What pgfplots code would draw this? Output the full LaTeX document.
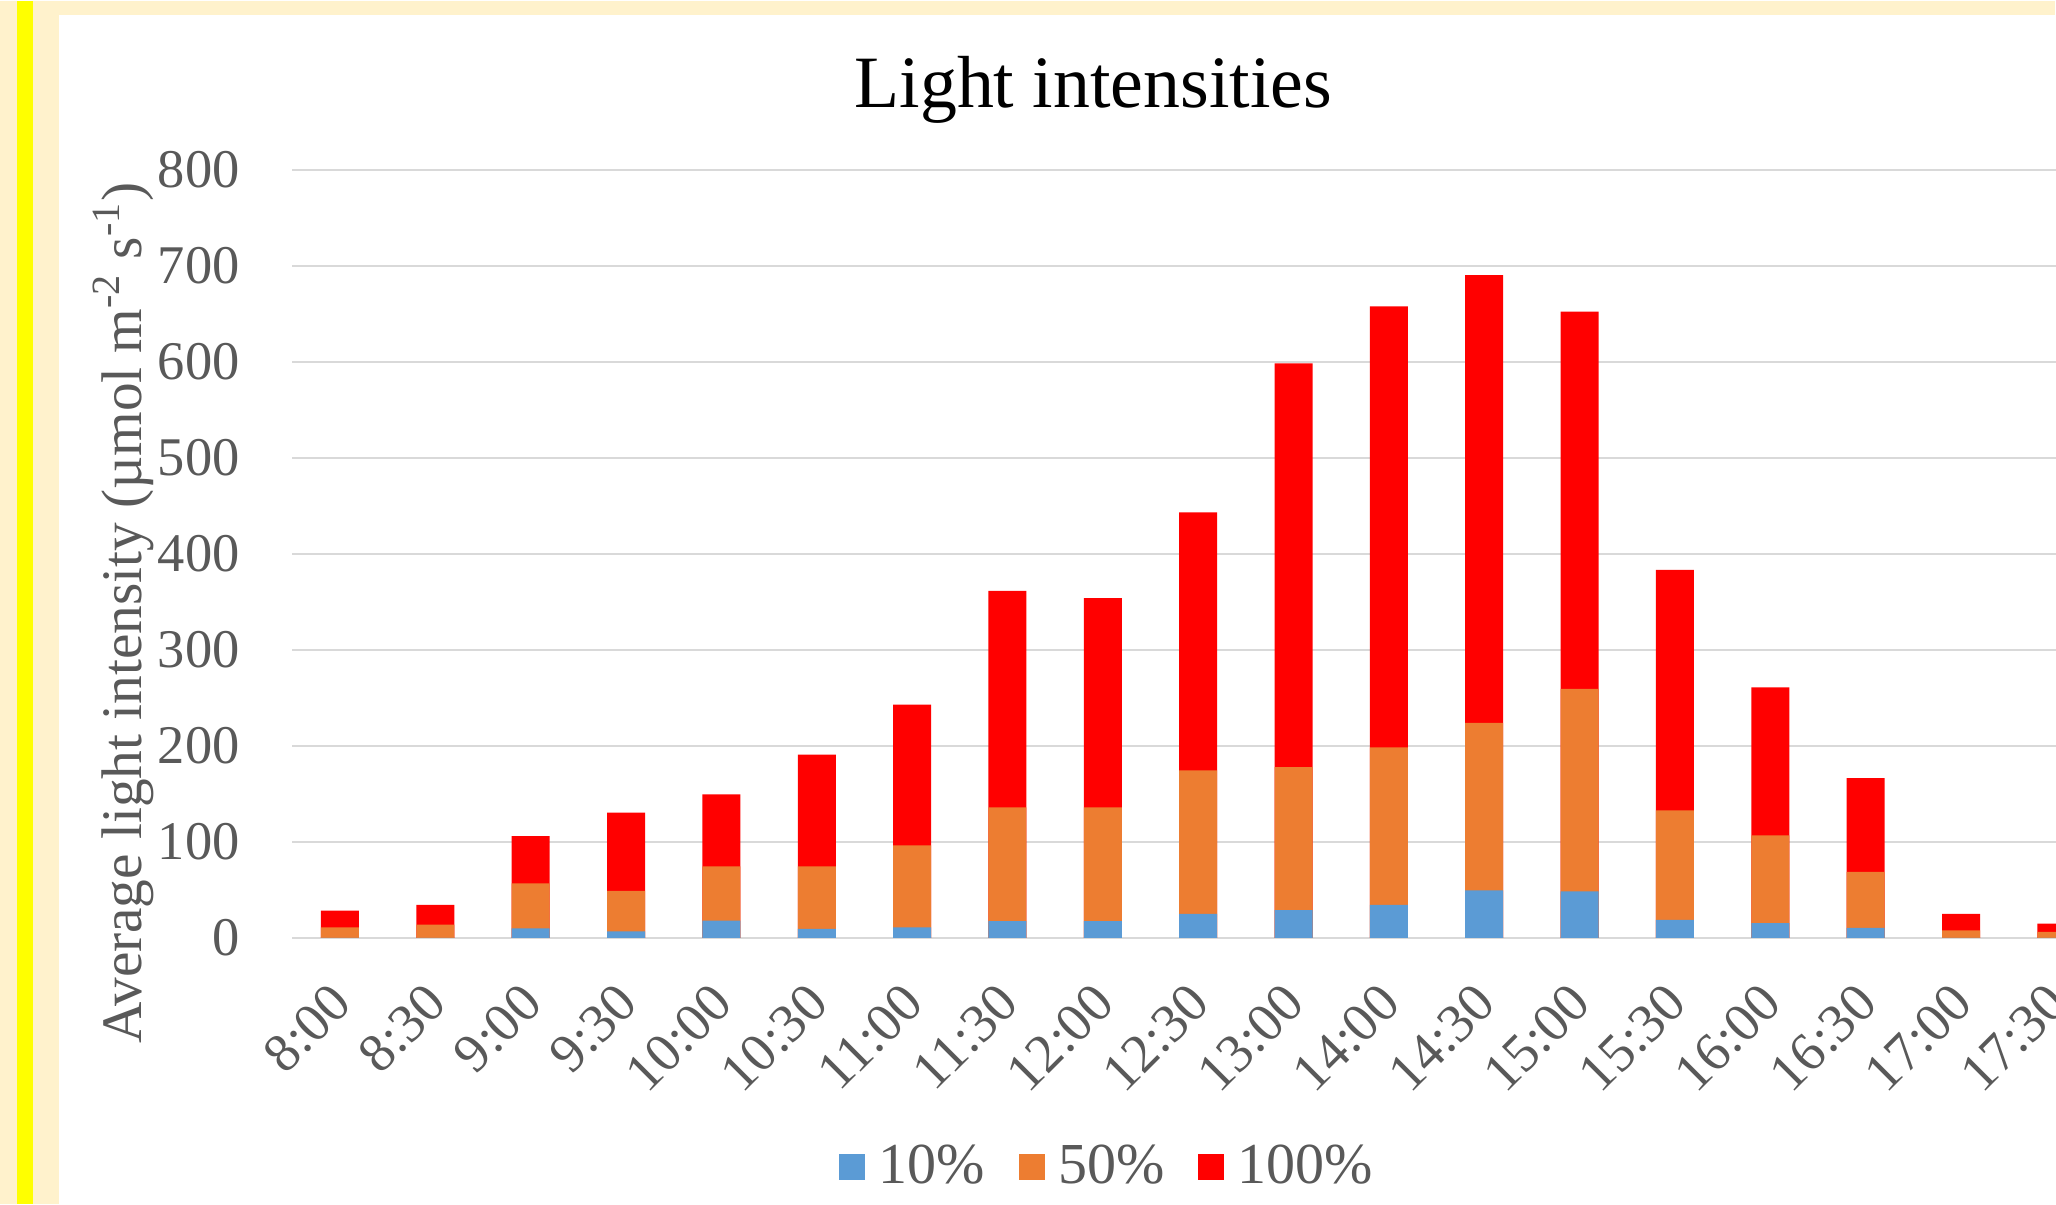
\documentclass[border=0pt]{standalone}
\usepackage{fontspec}
\setmainfont{Liberation Serif}
\usepackage{pgfplots}
\usepackage{pgfplotstable}
\pgfplotsset{compat=1.18}

\definecolor{cream}{HTML}{FFF2CC}
\definecolor{stripe}{HTML}{FFFF00}
\definecolor{txt}{HTML}{595959}
\definecolor{gridc}{HTML}{D9D9D9}
\definecolor{sBlue}{HTML}{5B9BD5}
\definecolor{sOrange}{HTML}{ED7D31}
\definecolor{sRed}{HTML}{FF0000}

% average light intensity under 10 %, 50 % and 100 % light
\pgfplotstableread{
idx p10  p50   p100
0   0    11    28.5
1   0    14    34.5
2   10   57    106
3   7    49    130.5
4   18   74.5  149.5
5   9.5  74.5  191
6   11   96.5  243
7   17.5 136   361.5
8   17.5 136   354
9   25   174.5 443.5
10  29   178   598.5
11  34.5 198.5 658
12  49.5 224   690.5
13  48.5 259.5 652.5
14  19   133   383.5
15  15.5 107   261
16  10.5 69    166.5
17  0    8     25
18  0    6.5   15
}\lightdata

\begin{document}
\begin{tikzpicture}
% page background, side stripe and chart area
\begin{scope}[x=0.01cm,y=0.01cm]
\fill[cream] (0,0) rectangle (2056,1204);
\fill[stripe] (17,0) rectangle (33,1204);
\fill[white] (59,0) rectangle (2200,1190);
\node[anchor=base, font=\fontsize{21}{25}\selectfont, text=black] at (1094,1097) {Light intensities};
\end{scope}

\begin{axis}[
  at={(2.923cm,2.66cm)}, anchor=south west,
  scale only axis, width=18.117cm, height=7.68cm,
  xmin=-0.5, xmax=18.5, ymin=0, ymax=800,
  ybar, bar width=0.38cm,
  axis line style={draw=none},
  major tick length=0pt,
  ymajorgrids, grid style={gridc, line width=0.6pt},
  ytick={0,100,...,800},
  xtick={0,...,18},
  xticklabels={8:00,8:30,9:00,9:30,10:00,10:30,11:00,11:30,12:00,12:30,13:00,14:00,14:30,15:00,15:30,16:00,16:30,17:00,17:30},
  /pgf/number format/assume math mode=true,
  tick label style={font=\fontsize{15.5}{18}\selectfont, text=txt},
  yticklabel style={anchor=east, inner sep=0pt, xshift=-0.52cm},
  xticklabel style={inner sep=0pt, yshift=-0.42cm, xshift=-0.12cm, rotate=45, anchor=north east},
  ylabel={Average light intensity (µmol m\textsuperscript{-2} s\textsuperscript{-1})},
  ylabel style={at={(rel axis cs:-0.0834,0.423)}, anchor=base, font=\fontsize{16.3}{19}\selectfont, text=txt},
  legend style={at={(0.451,-0.298)}, anchor=center, draw=none, fill=none,
    legend columns=-1, font=\fontsize{16.5}{19}\selectfont, text=txt,
    nodes={inner sep=0.065cm},
    /tikz/every odd column/.append style={column sep=0.07cm},
    /tikz/every even column/.append style={column sep=0.27cm}},
  legend image code/.code={\fill[#1] (0cm,-0.13cm) rectangle (0.26cm,0.13cm);},
  reverse legend,
]
\addplot[fill=sRed, draw=none, bar shift=0pt] table[x=idx, y=p100] {\lightdata};
\addlegendentry{100\%}
\addplot[fill=sOrange, draw=none, bar shift=0pt] table[x=idx, y=p50] {\lightdata};
\addlegendentry{50\%}
\addplot[fill=sBlue, draw=none, bar shift=0pt] table[x=idx, y=p10] {\lightdata};
\addlegendentry{10\%}
\end{axis}
\pgfresetboundingbox
\useasboundingbox (0,0) rectangle (20.56cm,12.04cm);
\end{tikzpicture}
\end{document}
